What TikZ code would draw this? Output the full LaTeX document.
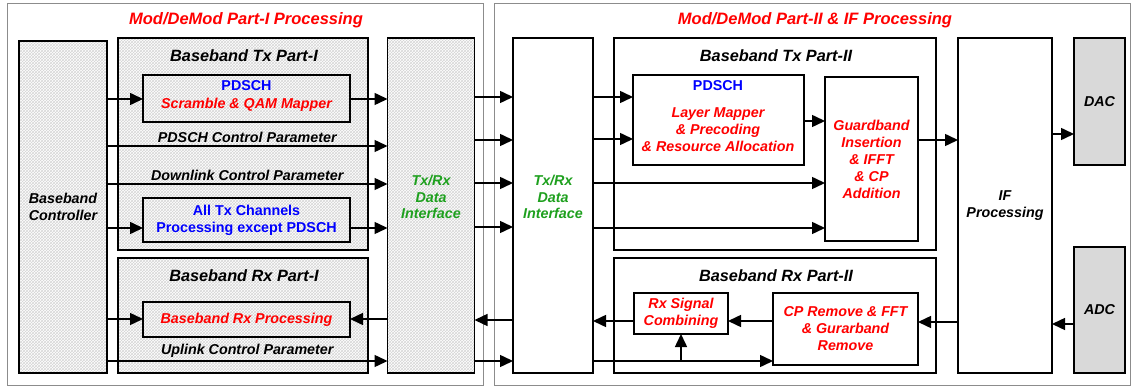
\documentclass[tikz,border=0pt]{standalone}
\usepackage{fontspec}
\setmainfont{Liberation Sans}
\usetikzlibrary{arrows.meta,patterns}
\definecolor{txtgreen}{RGB}{30,160,30}
\definecolor{dacgray}{RGB}{217,217,217}
\begin{document}
\begin{tikzpicture}[x=1pt,y=-1pt,
  blk/.style={draw, line width=1.5pt, inner sep=0pt, outer sep=0pt, align=center},
  hatch/.style={preaction={fill=white}, pattern=crosshatch, pattern color=black!16},
  outerbox/.style={draw=black!45, line width=0.9pt},
  arr/.style={line width=1.5pt, -{Triangle[length=13pt,width=12pt]}},
  ln/.style={line width=1.5pt},
  ttl/.style={font=\fontsize{16.5}{19}\selectfont\bfseries\itshape, text=red},
  sub/.style={font=\fontsize{16.3}{19}\selectfont\bfseries\itshape},
  lbl/.style={font=\fontsize{14.3}{17}\selectfont\bfseries\itshape},
  rtxt/.style={font=\fontsize{14.3}{17}\selectfont\bfseries\itshape, text=red, align=center},
  btxt/.style={font=\fontsize{14.3}{17}\selectfont\bfseries, text=blue, align=center},
  gtxt/.style={font=\fontsize{14.3}{16.5}\selectfont\bfseries\itshape, text=txtgreen, align=center},
  ktxt/.style={font=\fontsize{14.3}{17}\selectfont\bfseries\itshape, align=center}
]
\useasboundingbox (0,0) rectangle (1132,387);
% outer frames
\draw[outerbox] (7,3) rectangle (483,385);
\draw[outerbox] (494,3) rectangle (1130,385);
\node[ttl] (t1) at (246,20) {Mod/DeMod Part-I Processing};
\node[ttl] (t2) at (815,20) {Mod/DeMod Part-II \& IF Processing};

% Part I
\node[blk, hatch, minimum width=88, minimum height=332, ktxt] (ctrl) at (63,207) {Baseband\\Controller};
\node[blk, hatch, minimum width=250, minimum height=212] (txI) at (243,144) {};
\node[sub] (txIt) at (244,56) {Baseband Tx Part-I};
\node[blk, hatch, minimum width=207, minimum height=47] (pdschI) at (246.5,98.5) {};
\node[btxt] (pdschIa) at (246.5,86) {PDSCH};
\node[rtxt] (pdschIb) at (246.5,105) {Scramble \& QAM Mapper};
\node[blk, hatch, minimum width=207, minimum height=44, btxt] (allTx) at (246.5,220) {All Tx Channels\\Processing except PDSCH};
\node[blk, hatch, minimum width=250, minimum height=115] (rxI) at (243,315.5) {};
\node[sub] (rxIt) at (244,276) {Baseband Rx Part-I};
\node[blk, hatch, minimum width=207, minimum height=35, rtxt] (rxProc) at (246.5,319.5) {Baseband Rx Processing};
\node[blk, hatch, minimum width=87, minimum height=335] (di1) at (431,205.5) {};
\node[gtxt] (di1t) at (431,197) {Tx/Rx\\Data\\Interface};

% Part II
\node[blk, fill=white, minimum width=80, minimum height=335] (di2) at (553,205.5) {};
\node[gtxt] (di2t) at (553,197) {Tx/Rx\\Data\\Interface};
\node[blk, fill=white, minimum width=322, minimum height=212] (txII) at (775,144) {};
\node[sub] (txIIt) at (776,56) {Baseband Tx Part-II};
\node[blk, fill=white, minimum width=171, minimum height=90] (pdschII) at (718.5,120) {};
\node[btxt] (pdschIIa) at (718,86) {PDSCH};
\node[rtxt] (pdschIIb) at (718,130) {Layer Mapper\\\& Precoding\\\& Resource Allocation};
\node[blk, fill=white, minimum width=93, minimum height=164, rtxt] (guard) at (871.5,159) {Guardband\\Insertion\\\& IFFT\\\& CP\\Addition};
\node[blk, fill=white, minimum width=94, minimum height=335, ktxt] (ifp) at (1005,205.5) {IF\\Processing};
\node[blk, fill=dacgray, minimum width=51, minimum height=127, ktxt] (dac) at (1099.5,101.5) {DAC};
\node[blk, fill=dacgray, minimum width=51, minimum height=126, ktxt] (adc) at (1099.5,310) {ADC};
\node[blk, fill=white, minimum width=322, minimum height=115] (rxII) at (775,315.5) {};
\node[sub] (rxIIt) at (776,276) {Baseband Rx Part-II};
\node[blk, fill=white, minimum width=145, minimum height=72, rtxt] (cp) at (845.5,329) {CP Remove \& FFT\\\& Gurarband\\Remove};
\node[blk, fill=white, minimum width=94, minimum height=41, rtxt] (comb) at (681,313.5) {Rx Signal\\Combining};

% Part I connectors
\draw[arr] (ctrl.east |- 0,99) -- (pdschI.west |- 0,99);
\draw[arr] (pdschI.east |- 0,99) -- (di1.west |- 0,99);
\draw[arr] (ctrl.east |- 0,146) -- node[lbl, above=-1pt] (l1) {PDSCH Control Parameter} (di1.west |- 0,146);
\draw[arr] (ctrl.east |- 0,184) -- node[lbl, above=-1pt] (l2) {Downlink Control Parameter} (di1.west |- 0,184);
\draw[arr] (ctrl.east |- 0,228) -- (allTx.west |- 0,228);
\draw[arr] (allTx.east |- 0,228) -- (di1.west |- 0,228);
\draw[arr] (ctrl.east |- 0,319) -- (rxProc.west |- 0,319);
\draw[arr] (di1.west |- 0,319) -- (rxProc.east |- 0,319);
\draw[arr] (ctrl.east |- 0,361) -- node[lbl, above=-1pt] (l3) {Uplink Control Parameter} (di1.west |- 0,361);

% interface connectors
\draw[arr] (di1.east |- 0,97) -- (di2.west |- 0,97);
\draw[arr] (di1.east |- 0,140) -- (di2.west |- 0,140);
\draw[arr] (di1.east |- 0,183) -- (di2.west |- 0,183);
\draw[arr] (di1.east |- 0,227) -- (di2.west |- 0,227);
\draw[arr] (di2.west |- 0,320) -- (di1.east |- 0,320);
\draw[arr] (di1.east |- 0,361) -- (di2.west |- 0,361);

% Part II connectors
\draw[arr] (di2.east |- 0,97) -- (pdschII.west |- 0,97);
\draw[arr] (di2.east |- 0,139) -- (pdschII.west |- 0,139);
\draw[arr] (di2.east |- 0,183) -- (guard.west |- 0,183);
\draw[arr] (di2.east |- 0,228) -- (guard.west |- 0,228);
\draw[arr] (pdschII.east |- 0,121) -- (guard.west |- 0,121);
\draw[arr] (guard.east |- 0,140) -- (ifp.west |- 0,140);
\draw[arr] (ifp.east |- 0,134) -- (dac.west |- 0,134);
\draw[arr] (adc.west |- 0,324) -- (ifp.east |- 0,324);
\draw[arr] (ifp.west |- 0,322) -- (cp.east |- 0,322);
\draw[arr] (cp.west |- 0,321) -- (comb.east |- 0,321);
\draw[arr] (comb.west |- 0,321) -- (di2.east |- 0,321);
\draw[arr] (di2.east |- 0,361) -- (cp.west |- 0,361);
\coordinate (br) at (comb.south |- 0,361);
\draw[arr] (br) -- (comb.south);
\end{tikzpicture}
\end{document}
